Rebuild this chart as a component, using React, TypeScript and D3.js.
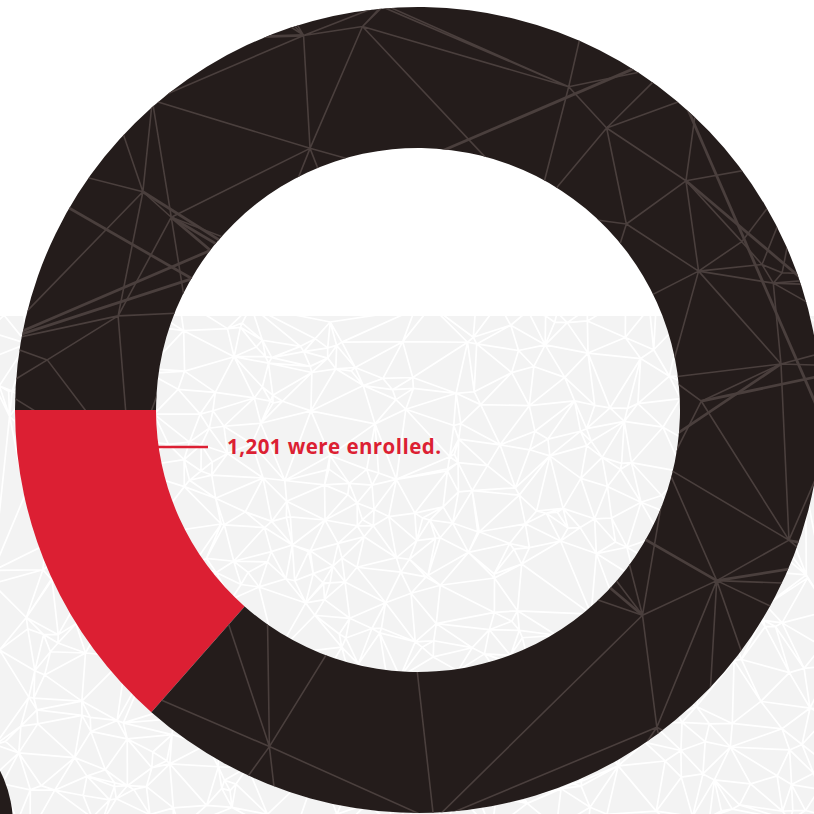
import React, { useEffect, useRef } from "react";
import * as d3 from "d3";

// values
const categories = ["Enrolled", "Not enrolled"];
const counts = [1201, 7700];
const colors = ["#dc1f33", "#241c1b"];
const labelText = "1,201 were enrolled.";

const W = 814;
const H = 814;

const App: React.FC = () => {
  const svgRef = useRef<SVGSVGElement | null>(null);

  useEffect(() => {
    if (!svgRef.current) return;
    const svg = d3.select(svgRef.current);
    svg.selectAll("*").remove();

    const cx = 418;
    const cy = 410;
    const outer = 403;
    const inner = 262;
    const bandTop = 316;

    const rnd = d3.randomLcg(0.4213);

    // background: white top, grey mesh below
    svg.append("rect").attr("width", W).attr("height", H).attr("fill", "#ffffff");
    svg
      .append("rect")
      .attr("y", bandTop)
      .attr("width", W)
      .attr("height", H - bandTop)
      .attr("fill", "#f3f3f3");

    const defs = svg.append("defs");
    defs
      .append("clipPath")
      .attr("id", "band")
      .append("rect")
      .attr("y", bandTop)
      .attr("width", W)
      .attr("height", H - bandTop);

    const pts: [number, number][] = [];
    for (let i = 0; i < 650; i++) {
      pts.push([rnd() * (W + 40) - 20, bandTop - 20 + rnd() * (H - bandTop + 40)]);
    }
    const del = d3.Delaunay.from(pts);
    svg
      .append("path")
      .attr("clip-path", "url(#band)")
      .attr("d", del.render())
      .attr("fill", "none")
      .attr("stroke", "#ffffff")
      .attr("stroke-width", 1.7);

    // partial dark circle bottom-left
    svg
      .append("circle")
      .attr("cx", -107)
      .attr("cy", 825)
      .attr("r", 120)
      .attr("fill", "#241c1b");

    // donut
    const pie = d3
      .pie<number>()
      .sort(null)
      .startAngle(-Math.PI / 2)
      .endAngle(-Math.PI / 2 - 2 * Math.PI);
    const arcs = pie(counts);
    const arc = d3.arc<d3.PieArcDatum<number>>().innerRadius(inner).outerRadius(outer);

    const g = svg.append("g").attr("transform", `translate(${cx},${cy})`);

    defs
      .append("clipPath")
      .attr("id", "darkArc")
      .append("path")
      .attr("transform", `translate(${cx},${cy})`)
      .attr("d", arc(arcs[1]) as string);

    g.selectAll("path.slice")
      .data(arcs)
      .join("path")
      .attr("class", "slice")
      .attr("d", (d) => arc(d) as string)
      .attr("fill", (_, i) => colors[i])
      .attr("data-name", (_, i) => categories[i]);

    // mesh texture on the dark slice
    const dpts: [number, number][] = [];
    for (let i = 0; i < 90; i++) {
      dpts.push([cx - outer - 60 + rnd() * (2 * outer + 120), cy - outer - 60 + rnd() * (2 * outer + 120)]);
    }
    const ddel = d3.Delaunay.from(dpts);
    const mesh = svg.append("g").attr("clip-path", "url(#darkArc)");
    mesh
      .append("path")
      .attr("d", ddel.render())
      .attr("fill", "none")
      .attr("stroke", "#4a3f3d")
      .attr("stroke-width", 1.6);
    // a few long heavier lines
    for (let i = 0; i < 14; i++) {
      const a = dpts[Math.floor(rnd() * dpts.length)];
      const b = dpts[Math.floor(rnd() * dpts.length)];
      mesh
        .append("line")
        .attr("x1", a[0])
        .attr("y1", a[1])
        .attr("x2", b[0])
        .attr("y2", b[1])
        .attr("stroke", "#4a3f3d")
        .attr("stroke-width", 2.8);
    }

    // leader + label
    svg
      .append("line")
      .attr("x1", cx - inner)
      .attr("x2", 208)
      .attr("y1", 447)
      .attr("y2", 447)
      .attr("stroke", colors[0])
      .attr("stroke-width", 2.5);
    svg
      .append("text")
      .attr("x", 227)
      .attr("y", 454)
      .attr("fill", colors[0])
      .attr("font-family", "'Open Sans', sans-serif")
      .attr("font-weight", 700)
      .attr("font-size", 20.5)
      .attr("textLength", 214)
      .attr("lengthAdjust", "spacing")
      .text(labelText);
  }, []);

  return <svg ref={svgRef} width={W} height={H} style={{ position: "absolute", left: 0, top: 0 }} />;
};

export default App;
